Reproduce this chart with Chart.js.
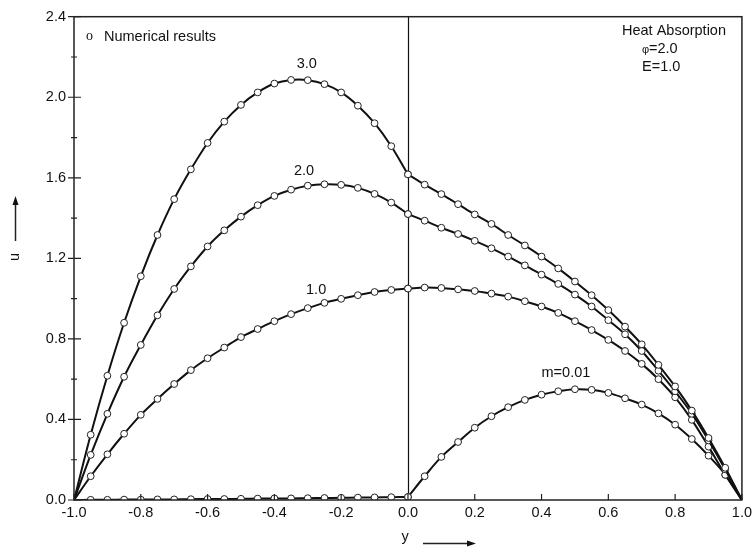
<!DOCTYPE html>
<html>
<head>
<meta charset="utf-8">
<script src="https://cdn.jsdelivr.net/npm/chart.js@4.4.0/dist/chart.umd.min.js"></script>
<style>
  html, body { margin: 0; padding: 0; background: #fff; }
  canvas { display: block; }
</style>
</head>
<body>
<canvas id="myChart" width="756" height="554"></canvas>
<script>
// y positions across the channel (x axis of the plot)
const yValues = [
  -1.0, -0.95, -0.9, -0.85, -0.8, -0.75, -0.7, -0.65, -0.6, -0.55, -0.5,
  -0.45, -0.4, -0.35, -0.3, -0.25, -0.2, -0.15, -0.1, -0.05, 0.0,
  0.05, 0.1, 0.15, 0.2, 0.25, 0.3, 0.35, 0.4, 0.45, 0.5,
  0.55, 0.6, 0.65, 0.7, 0.75, 0.8, 0.85, 0.9, 0.95, 1.0,
];

// velocity u for each m
const uM3 = [
  0, 0.324, 0.617, 0.880, 1.111, 1.316, 1.494, 1.642, 1.773, 1.879, 1.962,
  2.024, 2.068, 2.086, 2.085, 2.065, 2.024, 1.958, 1.871, 1.757, 1.617,
  1.566, 1.519, 1.469, 1.418, 1.371, 1.316, 1.264, 1.209, 1.150, 1.085,
  1.017, 0.943, 0.861, 0.773, 0.671, 0.564, 0.444, 0.308, 0.160, 0,
];
const uM2 = [
  0, 0.224, 0.428, 0.612, 0.770, 0.917, 1.048, 1.160, 1.259, 1.339, 1.407,
  1.464, 1.510, 1.541, 1.561, 1.568, 1.565, 1.550, 1.520, 1.477, 1.420,
  1.387, 1.352, 1.321, 1.287, 1.250, 1.209, 1.165, 1.119, 1.073, 1.020,
  0.961, 0.893, 0.823, 0.740, 0.642, 0.540, 0.428, 0.296, 0.152, 0,
];
const uM1 = [
  0, 0.118, 0.227, 0.329, 0.423, 0.502, 0.576, 0.645, 0.704, 0.757, 0.809,
  0.849, 0.888, 0.923, 0.953, 0.979, 0.999, 1.017, 1.033, 1.043, 1.050,
  1.055, 1.053, 1.046, 1.038, 1.025, 1.010, 0.987, 0.961, 0.929, 0.888,
  0.844, 0.795, 0.740, 0.676, 0.600, 0.510, 0.398, 0.265, 0.125, 0,
];
const uM001 = [
  0, 0.001, 0.001, 0.002, 0.002, 0.003, 0.003, 0.004, 0.005, 0.005, 0.006,
  0.007, 0.008, 0.008, 0.009, 0.010, 0.011, 0.012, 0.013, 0.014, 0.015,
  0.118, 0.214, 0.288, 0.359, 0.416, 0.461, 0.497, 0.523, 0.540, 0.550,
  0.547, 0.532, 0.505, 0.474, 0.430, 0.374, 0.303, 0.220, 0.126, 0,
];

const series = [uM3, uM2, uM1, uM001];

// curve labels and where they sit (data coordinates)
const curveLabels = ["3.0", "2.0", "1.0", "m=0.01"];
const labelAt = [
  [-0.303, 2.163],
  [-0.311, 1.632],
  [-0.275, 1.045],
  [0.473, 0.632],
];

const FONT = "'Liberation Sans', Arial, sans-serif";
Chart.defaults.font.family = FONT;
Chart.defaults.font.size = 14.5;
Chart.defaults.color = "#111";

// each curve has a kink at y = 0, so draw the two halves separately
const mid = yValues.indexOf(0);
const datasets = [];
series.forEach((vals) => {
  const pts = yValues.map((y, i) => ({ x: y, y: vals[i] }));
  [pts.slice(0, mid + 1), pts.slice(mid)].forEach((part) => {
    datasets.push({
      data: part,
      showLine: true,
      borderColor: "#111",
      borderWidth: 2,
      tension: 0.35,
      pointRadius: (c) => (Math.abs(c.raw.x) === 1 ? 0 : 3.4),
      pointBorderWidth: 1,
      pointBorderColor: "#222",
      pointBackgroundColor: "#fff",
    });
  });
});

function arrow(ctx, x1, y1, x2, y2) {
  const ang = Math.atan2(y2 - y1, x2 - x1);
  ctx.beginPath();
  ctx.moveTo(x1, y1);
  ctx.lineTo(x2 - 6 * Math.cos(ang), y2 - 6 * Math.sin(ang));
  ctx.stroke();
  ctx.beginPath();
  ctx.moveTo(x2, y2);
  ctx.lineTo(x2 - 9 * Math.cos(ang) + 3 * Math.sin(ang), y2 - 9 * Math.sin(ang) - 3 * Math.cos(ang));
  ctx.lineTo(x2 - 9 * Math.cos(ang) - 3 * Math.sin(ang), y2 - 9 * Math.sin(ang) + 3 * Math.cos(ang));
  ctx.closePath();
  ctx.fill();
}

const decor = {
  id: "decor",
  beforeDatasetsDraw(chart) {
    const { ctx, chartArea: a, scales } = chart;
    const x0 = Math.round(scales.x.getPixelForValue(0)) + 0.5;
    ctx.save();
    ctx.strokeStyle = "#111";
    ctx.lineWidth = 1.2;
    ctx.beginPath();
    ctx.moveTo(x0, a.top);
    ctx.lineTo(x0, a.bottom);
    ctx.stroke();
    ctx.restore();
  },
  afterDraw(chart) {
    const { ctx, chartArea: a, scales } = chart;
    const xs = scales.x, ys = scales.y;
    ctx.save();
    ctx.strokeStyle = "#222";
    ctx.fillStyle = "#111";
    ctx.lineWidth = 1.5;
    ctx.strokeRect(a.left, a.top, a.right - a.left, a.bottom - a.top);

    // ticks
    ctx.lineWidth = 1.2;
    ctx.beginPath();
    const yt = ys.ticks.map((t) => t.value);
    yt.forEach((v, i) => {
      const p = ys.getPixelForValue(v);
      ctx.moveTo(a.left - 6, p);
      ctx.lineTo(a.left + 7, p);
      if (i < yt.length - 1) {
        const m = ys.getPixelForValue((v + yt[i + 1]) / 2);
        ctx.moveTo(a.left - 3, m);
        ctx.lineTo(a.left + 3, m);
      }
    });
    xs.ticks.forEach((t) => {
      const p = xs.getPixelForValue(t.value);
      ctx.moveTo(p, a.bottom);
      ctx.lineTo(p, a.bottom - 6);
    });
    ctx.stroke();

    // curve labels
    ctx.textAlign = "center";
    ctx.textBaseline = "middle";
    ctx.font = "14.5px " + FONT;
    curveLabels.forEach((txt, i) => {
      ctx.fillText(txt, xs.getPixelForValue(labelAt[i][0]), ys.getPixelForValue(labelAt[i][1]));
    });

    // legend note
    ctx.textAlign = "left";
    ctx.font = "14px 'Liberation Serif', serif";
    ctx.fillText("o", 86, 36);
    ctx.font = "14.5px " + FONT;
    ctx.fillText("Numerical results", 104, 37);

    // parameters box
    ctx.fillText("Heat Absorption", 622, 31);
    ctx.font = "11px " + FONT;
    ctx.fillText("\u03c6", 642, 50);
    ctx.font = "14.5px " + FONT;
    ctx.fillText("=2.0", 649, 49);
    ctx.fillText("E=1.0", 642, 67);

    // axis titles with arrows
    ctx.lineWidth = 1.5;
    ctx.textAlign = "center";
    ctx.fillText("y", 405, 537);
    arrow(ctx, 423, 543.5, 476, 543.5);
    ctx.save();
    ctx.translate(15, 257);
    ctx.rotate(-Math.PI / 2);
    ctx.fillText("u", 0, 0);
    ctx.restore();
    arrow(ctx, 15.5, 241, 15.5, 196);
    ctx.restore();
  },
};

const fmt = (v) => (Math.abs(v) < 1e-9 ? "0.0" : v.toFixed(1));

const ctx = document.getElementById("myChart").getContext("2d");
new Chart(ctx, {
  type: "scatter",
  data: { datasets },
  options: {
    responsive: false,
    animation: false,
    layout: { padding: { left: 0, right: 13, top: 14, bottom: 0 } },
    plugins: { legend: { display: false }, tooltip: { enabled: false } },
    scales: {
      x: {
        type: "linear",
        min: -1,
        max: 1,
        grid: { display: false, drawTicks: false },
        border: { display: false },
        ticks: { stepSize: 0.2, padding: 4, callback: fmt, maxRotation: 0 },
        afterFit: (s) => { s.height = 54; },
      },
      y: {
        type: "linear",
        min: 0,
        max: 2.4,
        grid: { display: false, drawTicks: false },
        border: { display: false },
        ticks: { stepSize: 0.4, padding: 8, callback: fmt },
        afterFit: (s) => { s.width = 74; },
      },
    },
  },
  plugins: [decor],
});
</script>
</body>
</html>
